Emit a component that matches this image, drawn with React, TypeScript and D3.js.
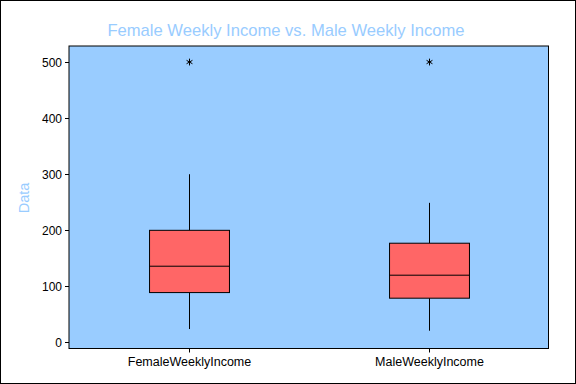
import React from "react";
import * as d3 from "d3";

const categories = ["FemaleWeeklyIncome", "MaleWeeklyIncome"];
const whiskerLow = [24, 21];
const q1 = [89, 79];
const median = [136, 120];
const q3 = [200, 177];
const whiskerHigh = [300, 249];
const outliers = [[500], [500]];
const yTicks = [0, 100, 200, 300, 400, 500];

const W = 576;
const H = 384;
const plot = { left: 69, right: 548.5, top: 46, bottom: 348.5 };
const FONT = "'Liberation Sans', Arial, sans-serif";
const BG = "#99CCFF";
const BOX = "#FF6666";

export default function App() {
  const x = d3
    .scaleBand<string>()
    .domain(categories)
    .range([plot.left, plot.right])
    .paddingInner(0)
    .paddingOuter(0);
  const y = d3.scaleLinear().domain([-10.7, 528.6]).range([plot.bottom, plot.top]);
  const bw = x.bandwidth() / 3;
  const star = d3.symbol().type(d3.symbolAsterisk).size(32)();

  return (
    <svg
      width={W}
      height={H}
      style={{ position: "absolute", left: 0, top: 0, display: "block" }}
      fontFamily={FONT}
    >
      <rect x={0} y={0} width={W} height={H} fill="#fff" />
      <rect x={0.5} y={0.5} width={W - 1} height={H - 1} fill="none" stroke="#000" strokeWidth={1} />
      <text x={286} y={35.5} textAnchor="middle" fontSize={16.6} fill={BG}>
        Female Weekly Income vs. Male Weekly Income
      </text>
      <rect
        x={plot.left}
        y={plot.top}
        width={plot.right - plot.left}
        height={plot.bottom - plot.top}
        fill={BG}
        stroke="#000"
        strokeWidth={1}
      />
      <text
        transform={`translate(29,198) rotate(-90)`}
        textAnchor="middle"
        fontSize={14.5}
        fill={BG}
      >
        Data
      </text>
      {yTicks.map((t) => (
        <g key={t} transform={`translate(0,${Math.round(y(t)) + 0.5})`}>
          <line x1={plot.left - 4} x2={plot.left} stroke="#000" />
          <text x={plot.left - 7} dy="0.35em" textAnchor="end" fontSize={12} fill="#000">
            {t}
          </text>
        </g>
      ))}
      {categories.map((c, i) => {
        const cx = Math.round(x(c)! + x.bandwidth() / 2) + 0.5;
        return (
          <g key={c}>
            <line x1={cx} x2={cx} y1={plot.bottom} y2={plot.bottom + 4} stroke="#000" />
            <text x={cx} y={366} textAnchor="middle" fontSize={12.5} fill="#000">
              {c}
            </text>
            <line x1={cx} x2={cx} y1={y(whiskerLow[i])} y2={y(q1[i])} stroke="#000" />
            <line x1={cx} x2={cx} y1={y(q3[i])} y2={y(whiskerHigh[i])} stroke="#000" />
            <rect
              x={cx - bw / 2}
              y={y(q3[i])}
              width={bw}
              height={y(q1[i]) - y(q3[i])}
              fill={BOX}
              stroke="#000"
              strokeWidth={1}
            />
            <line x1={cx - bw / 2} x2={cx + bw / 2} y1={y(median[i])} y2={y(median[i])} stroke="#000" />
            {outliers[i].map((o, j) => (
              <path
                key={j}
                d={star!}
                transform={`translate(${cx},${y(o)})`}
                fill="none"
                stroke="#000"
                strokeWidth={1}
              />
            ))}
          </g>
        );
      })}
    </svg>
  );
}
